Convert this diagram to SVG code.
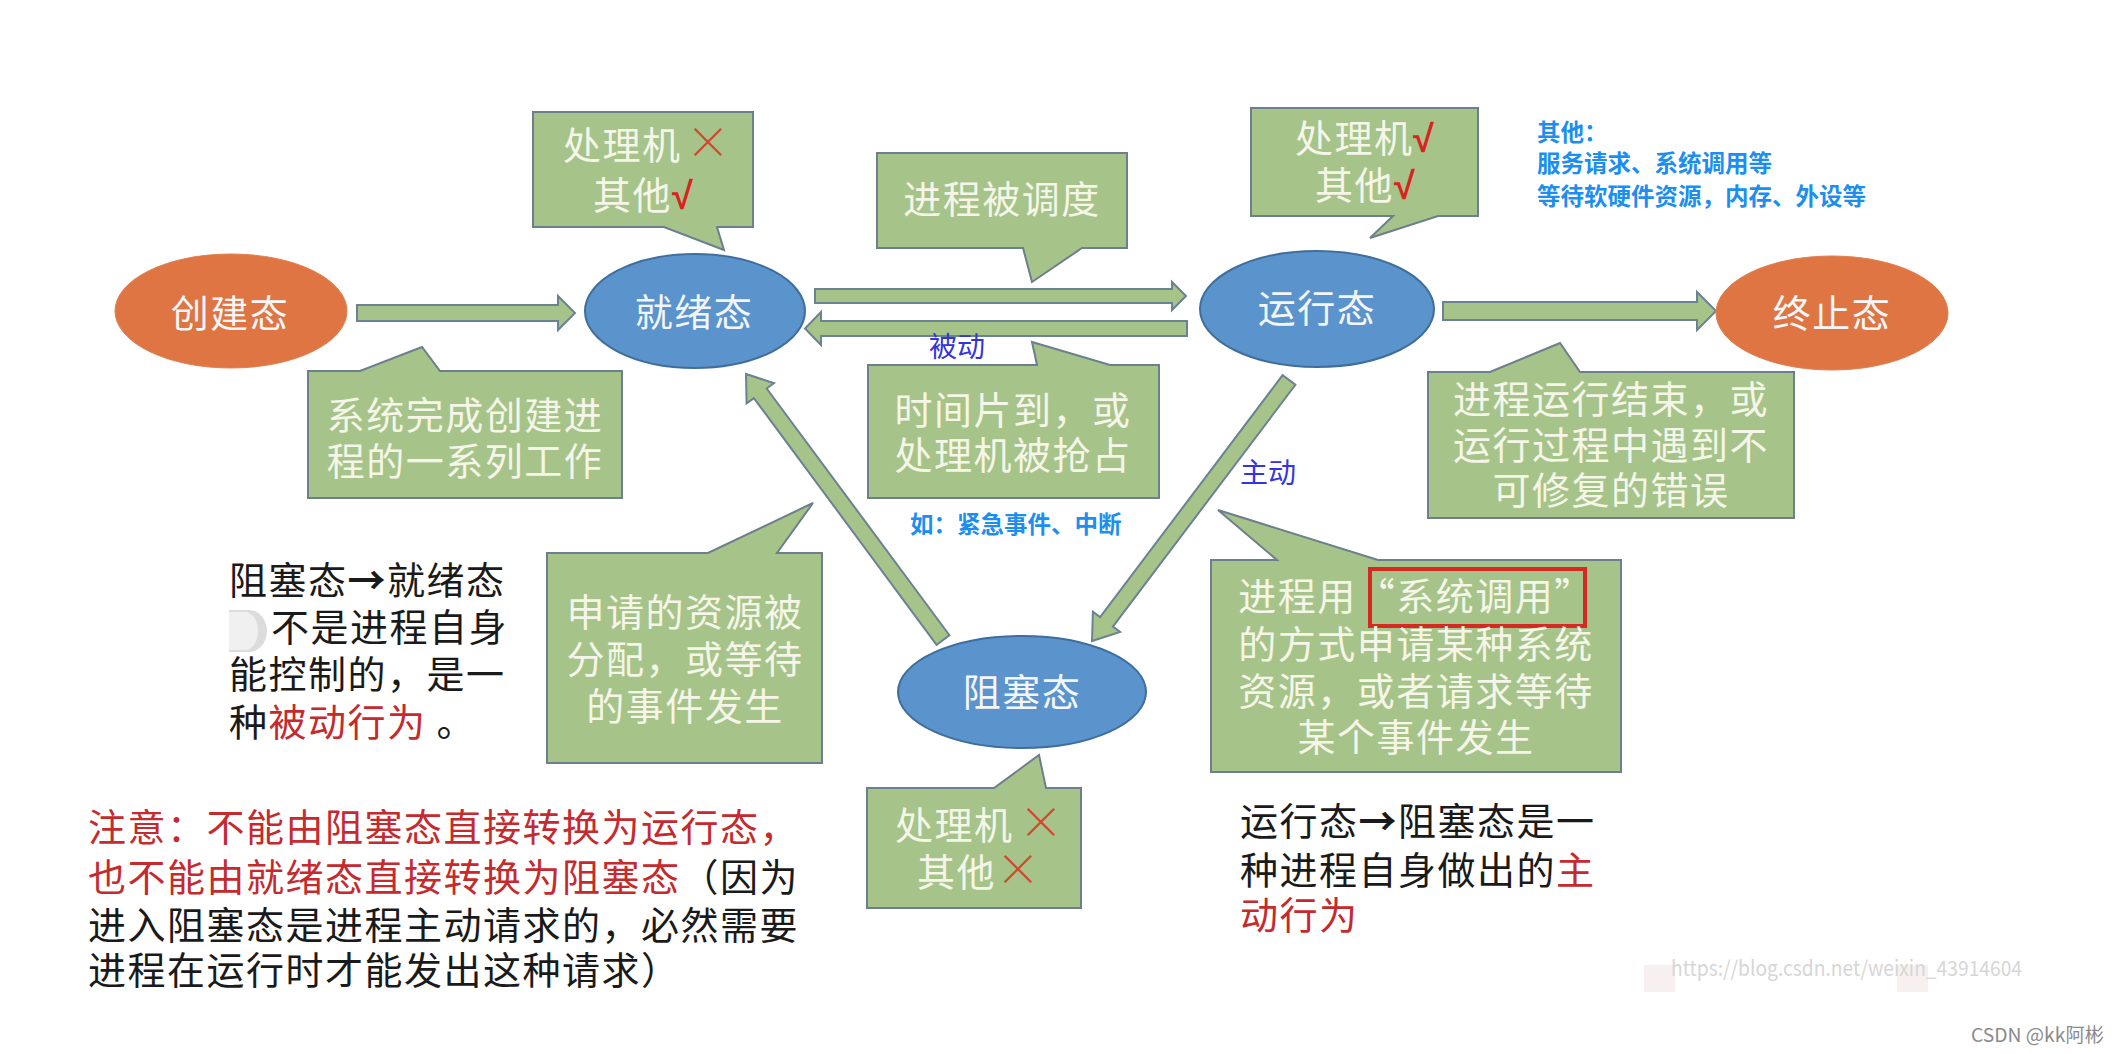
<svg xmlns="http://www.w3.org/2000/svg" width="2118" height="1054" viewBox="0 0 2118 1054">
<style>
text { font-family: "Noto Sans CJK SC", "Noto Sans", sans-serif; }
.box { fill:#a6c48a; stroke:#6c7f8c; stroke-width:2; }
.arrow { fill:#a6c48a; stroke:#6a8292; stroke-width:2; stroke-linejoin:miter; }
.blue { fill:#5b93cd; stroke:#3f6e9c; stroke-width:2; }
.orange { fill:#de7542; stroke:#e08050; stroke-width:1; }
.bt { font-size:38px; fill:#f5f5e8; text-anchor:middle; letter-spacing:1.5px; }
.bs { font-size:38px; fill:#f5f5e8; letter-spacing:1.5px; }
.et { font-size:38px; fill:#f3f5f7; text-anchor:middle; letter-spacing:1.5px; }
.blk { font-size:38px; fill:#1a1a1a; letter-spacing:1.5px; }
.red { fill:#c42a2e; }
.x { fill:#cf4a2c; font-size:44px; font-weight:300; }
.ck { fill:#d8241e; font-size:38px; font-weight:bold; font-family:"Liberation Sans", "DejaVu Sans", sans-serif; }
.note { fill:#1b8ef0; font-size:23.5px; font-weight:bold; }
.lbl { fill:#3434dc; font-size:28px; }
</style>
<rect x="0" y="0" width="2118" height="1054" fill="#ffffff"/>

<g id="connectors">
  <polygon class="arrow" points="357,305 558,305 558,296 575,313 558,330 558,321 357,321"/>
  <polygon class="arrow" points="815,289 1172,289 1172,282 1186,296 1172,310 1172,303 815,303"/>
  <polygon class="arrow" points="1187,321 821,321 821,312 805,328.5 821,345 821,336 1187,336"/>
  <polygon class="arrow" points="1443,302 1697,302 1697,292 1716,311 1697,330 1697,320 1443,320"/>
  <polygon class="arrow" points="936.6,644.8 753.9,398.1 746.6,403.4 746,374 774,383.2 766.7,388.5 949.4,635.2"/>
  <polygon class="arrow" points="1282.6,375.2 1100.1,617 1092.9,611.6 1092,641 1120.1,632 1112.9,626.6 1295.4,384.8"/>
  <text class="lbl" x="929" y="357">被动</text>
  <text class="lbl" x="1240" y="483">主动</text>
</g>

<g id="node-create">
  <ellipse class="orange" cx="231" cy="311" rx="116" ry="57"/>
  <text class="et" x="230" y="327">创建态</text>
</g>

<g id="node-ready">
  <ellipse class="blue" cx="695" cy="311" rx="110" ry="57"/>
  <text class="et" x="694" y="326">就绪态</text>
</g>

<g id="node-running">
  <ellipse class="blue" cx="1317" cy="309" rx="117" ry="58"/>
  <text class="et" x="1317" y="322">运行态</text>
</g>

<g id="node-terminated">
  <ellipse class="orange" cx="1832" cy="313" rx="116" ry="57"/>
  <text class="et" x="1832" y="327">终止态</text>
</g>

<g id="node-blocked">
  <ellipse class="blue" cx="1022" cy="692" rx="124" ry="56"/>
  <text class="et" x="1022" y="706">阻塞态</text>
</g>

<g id="callout-ready-res">
  <path class="box" d="M533,112 H753 V227 H717 L724,250 L664,227 H533 Z"/>
  <text class="bs" y="159"><tspan x="563">处理机</tspan><tspan class="x" x="686">×</tspan></text>
  <text class="bs" y="209"><tspan x="593">其他</tspan><tspan class="ck" x="672">√</tspan></text>
</g>

<g id="callout-create">
  <path class="box" d="M308,371 H360 L422,347 L440,371 H622 V498 H308 Z"/>
  <text class="bt" x="465" y="429">系统完成创建进</text>
  <text class="bt" x="465" y="475">程的一系列工作</text>
</g>

<g id="callout-dispatch">
  <path class="box" d="M877,153 H1127 V248 H1082 L1032,282 L1023,248 H877 Z"/>
  <text class="bt" x="1002" y="213">进程被调度</text>
</g>

<g id="callout-timeout">
  <path class="box" d="M868,365 H1037 L1032,342 L1110,365 H1159 V498 H868 Z"/>
  <text class="bt" x="1013" y="424">时间片到，或</text>
  <text class="bt" x="1013" y="469">处理机被抢占</text>
</g>

<g id="callout-running-res">
  <path class="box" d="M1251,108 H1478 V216 H1438 L1370,238 L1393,216 H1251 Z"/>
  <text class="bs" y="152"><tspan x="1295">处理机</tspan><tspan class="ck" x="1413">√</tspan></text>
  <text class="bs" y="199"><tspan x="1315">其他</tspan><tspan class="ck" x="1394">√</tspan></text>
</g>

<g id="note-other">
  <text class="note" x="1537" y="141">其他：</text>
  <text class="note" x="1537" y="172">服务请求、系统调用等</text>
  <text class="note" x="1537" y="205">等待软硬件资源，内存、外设等</text>
</g>

<g id="callout-exit">
  <path class="box" d="M1428,372 H1490 L1560,343 L1580,372 H1794 V518 H1428 Z"/>
  <text class="bt" x="1611" y="413">进程运行结束，或</text>
  <text class="bt" x="1611" y="459">运行过程中遇到不</text>
  <text class="bt" x="1611" y="504">可修复的错误</text>
</g>

<g id="note-interrupt">
  <text class="note" x="910" y="533">如：紧急事件、中断</text>
</g>

<g id="callout-wakeup">
  <path class="box" d="M547,553 H708 L813,503 L777,553 H822 V763 H547 Z"/>
  <text class="bt" x="685" y="626">申请的资源被</text>
  <text class="bt" x="685" y="673">分配，或等待</text>
  <text class="bt" x="685" y="720">的事件发生</text>
</g>

<g id="callout-block">
  <path class="box" d="M1211,560 H1277 L1218,510 L1378,560 H1621 V772 H1211 Z"/>
  <rect x="1370" y="569" width="215" height="57" fill="none" stroke="#d42a22" stroke-width="4"/>
  <text class="bt" x="1416" y="610">进程用“系统调用”</text>
  <text class="bt" x="1416" y="658">的方式申请某种系统</text>
  <text class="bt" x="1416" y="705">资源，或者请求等待</text>
  <text class="bt" x="1416" y="751">某个事件发生</text>
</g>

<g id="callout-blocked-res">
  <path class="box" d="M867,788 H994 L1039,755 L1046,788 H1081 V908 H867 Z"/>
  <text class="bs" y="839"><tspan x="895">处理机</tspan><tspan class="x" x="1019">×</tspan></text>
  <text class="bs" y="886"><tspan x="917">其他</tspan><tspan class="x" x="996">×</tspan></text>
</g>

<g id="text-passive">
  <path d="M229,610 h20 a18,21 0 0 1 0,42 h-20 z" fill="#dcdcdc"/>
  <path d="M229,612 h16 a13,19 0 0 1 0,38 h-16 z" fill="#f0f0f0"/>
  <text class="blk" x="229" y="594">阻塞态<tspan font-weight="bold">→</tspan>就绪态</text>
  <text class="blk" x="271" y="641">不是进程自身</text>
  <text class="blk" x="229" y="688">能控制的，是一</text>
  <text class="blk" x="229" y="736">种<tspan class="red">被动行为</tspan> 。</text>
</g>

<g id="text-active">
  <text class="blk" x="1240" y="835">运行态<tspan font-weight="bold">→</tspan>阻塞态是一</text>
  <text class="blk" x="1240" y="884">种进程自身做出的<tspan class="red">主</tspan></text>
  <text class="blk red" x="1240" y="929">动行为</text>
</g>

<g id="text-attention">
  <text class="blk red" x="88" y="841">注意：不能由阻塞态直接转换为运行态，</text>
  <text class="blk" x="88" y="891"><tspan class="red">也不能由就绪态直接转换为阻塞态</tspan>（因为</text>
  <text class="blk" x="88" y="939">进入阻塞态是进程主动请求的，必然需要</text>
  <text class="blk" x="88" y="984">进程在运行时才能发出这种请求）</text>
</g>

<g id="watermark">
  <rect x="1644" y="965" width="31" height="27" fill="#f8f0f0"/>
  <rect x="1897" y="965" width="31" height="27" fill="#f8f0f0"/>
  <text x="1671" y="976" font-family="Liberation Sans, sans-serif" font-size="21" fill="#d6d6d6" textLength="351" lengthAdjust="spacingAndGlyphs">https://blog.csdn.net/weixin_43914604</text>
  <text x="1971" y="1042" font-size="19" fill="#8a8a8a" textLength="133" lengthAdjust="spacingAndGlyphs">CSDN @kk阿彬</text>
</g>
</svg>
